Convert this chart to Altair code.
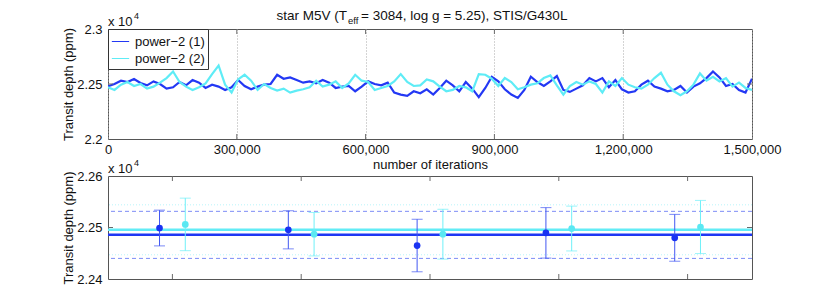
import altair as alt
import numpy as np
import pandas as pd

FONT = "Liberation Sans"
names = ["power\u22122 (1)", "power\u22122 (2)"]
dark = "#2338f4"
cyan = "#5eecf6"

# ---- top panel: MCMC traces (transit depth in ppm) ----
chain1 = [
    22479, 22500, 22530, 22518, 22545, 22509, 22488, 22524, 22500, 22458,
    22470, 22518, 22488, 22536, 22512, 22464, 22494, 22476, 22446, 22470,
    22536, 22482, 22452, 22476, 22494,
    22500, 22584, 22548, 22560, 22536, 22512, 22524, 22506, 22536, 22512,
    22464, 22476, 22482, 22434, 22476, 22524, 22500, 22488, 22512, 22422,
    22404, 22392, 22434, 22416, 22452,
    22404, 22464, 22530, 22488, 22434, 22518, 22458, 22380, 22464, 22566,
    22524, 22452, 22404, 22374, 22446, 22566, 22518, 22482, 22524, 22572,
    22446, 22428, 22458, 22488, 22554,
    22524, 22554, 22470, 22536, 22452, 22422, 22434, 22494, 22530, 22476,
    22458, 22434, 22446, 22482, 22422, 22476, 22506, 22554, 22614, 22560,
    22482, 22500, 22446, 22422, 22548,
]
chain2 = [
    22470, 22446, 22494, 22518, 22482, 22500, 22458, 22476, 22512, 22554,
    22614, 22518, 22476, 22446, 22470, 22506, 22590, 22668, 22494, 22422,
    22542, 22584, 22530, 22446, 22500,
    22464, 22440, 22458, 22422, 22440, 22452, 22470, 22530, 22476, 22494,
    22524, 22464, 22506, 22584, 22530, 22518, 22446, 22464, 22482, 22524,
    22590, 22518, 22482, 22488, 22542,
    22524, 22476, 22434, 22446, 22482, 22470, 22434, 22590, 22584, 22548,
    22482, 22554, 22518, 22452, 22470, 22494, 22506, 22554, 22578, 22488,
    22404, 22482, 22518, 22494, 22524,
    22500, 22422, 22524, 22482, 22554, 22494, 22470, 22458, 22494, 22554,
    22602, 22494, 22434, 22398, 22434, 22494, 22596, 22530, 22566, 22524,
    22554, 22476, 22512, 22464, 22446,
]
n_iter = 1500000
x_ticks = [0, 300000, 600000, 900000, 1200000, 1500000]
x_inner = [300000, 600000, 900000, 1200000]
y_top_ticks = [22000, 22500, 23000]

# ---- bottom panel: means and errors of 5 segments ----
segments = [1, 2, 3, 4, 5]
seg_mean1 = [22499, 22495.5, 22465, 22489.6, 22480]
seg_err1 = [34.7, 37.0, 51.0, 49.0, 45.5]
seg_mean2 = [22506, 22487, 22487, 22498, 22501]
seg_err2 = [51.0, 42.2, 48.4, 43.5, 51.6]
total_mean = [22485.7, 22495.5]
total_std = [45.7, 48.5]
y_bot_ticks = [22400, 22500, 22600]

title_parts = ["star M5V (T", "eff", " = 3084, log g = 5.25), STIS/G430L"]

W = 644
H1 = 110
H2 = 103
tick_col = "#6a6a6a"

m = len(chain1)
iters = np.linspace(0, n_iter, m)
trace = pd.DataFrame({
    "iteration": np.concatenate([iters, iters]),
    "depth": chain1 + chain2,
    "chain": [names[0]] * m + [names[1]] * m,
})

xs_top = alt.Scale(domain=[0, n_iter], nice=False, zero=False)
ys_top = alt.Scale(domain=[22000, 23000], nice=False, zero=False)

lines = alt.Chart(trace).mark_line(strokeWidth=2.2, clip=True).encode(
    x=alt.X("iteration:Q", scale=xs_top,
            axis=alt.Axis(values=x_ticks, format=",d", grid=True, gridDash=[1, 2],
                          gridColor="#a8a8a8", gridWidth=1, ticks=False, domain=False,
                          labelFontSize=13, labelPadding=4, labelFlush=False,
                          labelOverlap=False, title="number of iterations",
                          titleFontSize=13, titleFontWeight="normal", titleY=29,
                          titleBaseline="alphabetic")),
    y=alt.Y("depth:Q", scale=ys_top,
            axis=alt.Axis(values=y_top_ticks, labelExpr="datum.value / 10000 + ''",
                          grid=False, ticks=False, domain=False, labelFontSize=13,
                          labelPadding=6, labelFlush=False, title="Transit depth (ppm)",
                          titleFontSize=13, titleFontWeight="normal", titleX=-36,
                          titleY=H1 / 2, titleAngle=270, titleAlign="center",
                          titleBaseline="alphabetic")),
    color=alt.Color("chain:N", scale=alt.Scale(domain=names, range=[dark, cyan]),
                    legend=alt.Legend(orient="none", legendX=0, legendY=0, title=None,
                                      symbolType="stroke", symbolSize=300,
                                      symbolStrokeWidth=1, labelFontSize=13,
                                      labelFont=FONT, padding=3, strokeColor="#333",
                                      fillColor="white", rowPadding=0, labelOffset=5,
                                      cornerRadius=0, labelColor="#111")),
)

tick_x_df = pd.DataFrame({"v": x_inner})
tick_top_a = alt.Chart(tick_x_df).mark_rule(color=tick_col).encode(
    x=alt.X("v:Q", scale=xs_top), y=alt.value(0), y2=alt.value(5))
tick_top_b = alt.Chart(tick_x_df).mark_rule(color=tick_col).encode(
    x=alt.X("v:Q", scale=xs_top), y=alt.value(H1 - 5), y2=alt.value(H1))
tick_y1_df = pd.DataFrame({"v": [22500]})
tick_top_c = alt.Chart(tick_y1_df).mark_rule(color=tick_col).encode(
    y=alt.Y("v:Q", scale=ys_top), x=alt.value(0), x2=alt.value(5))
tick_top_d = alt.Chart(tick_y1_df).mark_rule(color=tick_col).encode(
    y=alt.Y("v:Q", scale=ys_top), x=alt.value(W - 5), x2=alt.value(W))


def exp_label():
    a = alt.Chart(pd.DataFrame({"t": ["x 10"]})).mark_text(
        align="left", baseline="alphabetic", fontSize=13, font=FONT, color="#111"
    ).encode(x=alt.value(0), y=alt.value(-3), text="t:N")
    b = alt.Chart(pd.DataFrame({"t": ["4"]})).mark_text(
        align="left", baseline="alphabetic", fontSize=9, font=FONT, color="#111"
    ).encode(x=alt.value(26), y=alt.value(-10), text="t:N")
    return [a, b]


TFS = 13.5
t1 = alt.Chart(pd.DataFrame({"t": [title_parts[0]]})).mark_text(
    align="right", baseline="alphabetic", fontSize=TFS, font=FONT, color="#111"
).encode(x=alt.value(239), y=alt.value(-9), text="t:N")
t2 = alt.Chart(pd.DataFrame({"t": [title_parts[1]]})).mark_text(
    align="left", baseline="alphabetic", fontSize=9.5, font=FONT, color="#111"
).encode(x=alt.value(240), y=alt.value(-5), text="t:N")
t3 = alt.Chart(pd.DataFrame({"t": [title_parts[2]]})).mark_text(
    align="left", baseline="alphabetic", fontSize=TFS, font=FONT, color="#111"
).encode(x=alt.value(253), y=alt.value(-9), text="t:N")

top = alt.layer(lines, tick_top_a, tick_top_b, tick_top_c, tick_top_d,
                *exp_label(), t1, t2, t3).properties(width=W, height=H1)

# ---- bottom panel ----
xs_bot = alt.Scale(domain=[0.5, 5.5], nice=False, zero=False)
ys_bot = alt.Scale(domain=[22400, 22600], nice=False, zero=False)

seg_df = pd.DataFrame({
    "pos": [s - 0.1 for s in segments] + [s + 0.1 for s in segments],
    "mean": seg_mean1 + seg_mean2,
    "lo": [a - b for a, b in zip(seg_mean1, seg_err1)] + [a - b for a, b in zip(seg_mean2, seg_err2)],
    "hi": [a + b for a, b in zip(seg_mean1, seg_err1)] + [a + b for a, b in zip(seg_mean2, seg_err2)],
    "chain": [names[0]] * 5 + [names[1]] * 5,
})
tot_df = pd.DataFrame({
    "chain": names,
    "mean": total_mean,
    "lo": [a - b for a, b in zip(total_mean, total_std)],
    "hi": [a + b for a, b in zip(total_mean, total_std)],
})

y_axis_bot = alt.Axis(values=y_bot_ticks, labelExpr="datum.value / 10000 + ''",
                      grid=False, ticks=False, domain=False, labelFontSize=13,
                      labelPadding=6, labelFlush=False, title="Transit depth (ppm)",
                      titleFontSize=13, titleFontWeight="normal", titleX=-36,
                      titleY=H2 / 2, titleAngle=270, titleAlign="center",
                      titleBaseline="alphabetic")

base_tot = alt.Chart(tot_df)
dashed = base_tot.transform_filter(alt.datum.chain == names[0])
dotted = base_tot.transform_filter(alt.datum.chain == names[1])
layers = []
layers.append(dotted.mark_rule(color="#b8f4fa", strokeDash=[1, 2], strokeWidth=1).encode(
    y=alt.Y("lo:Q", scale=ys_bot, axis=y_axis_bot)))
layers.append(dotted.mark_rule(color="#b8f4fa", strokeDash=[1, 2], strokeWidth=1).encode(
    y=alt.Y("hi:Q", scale=ys_bot)))
layers.append(dashed.mark_rule(color="#7d8cf6", strokeDash=[4, 3], strokeWidth=1).encode(
    y=alt.Y("lo:Q", scale=ys_bot)))
layers.append(dashed.mark_rule(color="#7d8cf6", strokeDash=[4, 3], strokeWidth=1).encode(
    y=alt.Y("hi:Q", scale=ys_bot)))
layers.append(dotted.mark_rule(color="#62ecf6", strokeWidth=2.5).encode(
    y=alt.Y("mean:Q", scale=ys_bot)))
layers.append(dashed.mark_rule(color="#1f37f4", strokeWidth=2.5).encode(
    y=alt.Y("mean:Q", scale=ys_bot)))

bar_cols = {names[0]: "#4257f2", names[1]: "#6ff0f8"}
pt_cols = {names[0]: "#1a33f2", names[1]: "#5ae8f2"}
for nm in names:
    sub = alt.Chart(seg_df).transform_filter(alt.datum.chain == nm)
    layers.append(sub.mark_rule(color=bar_cols[nm], strokeWidth=1).encode(
        x=alt.X("pos:Q", scale=xs_bot, axis=None),
        y=alt.Y("lo:Q", scale=ys_bot), y2="hi:Q"))
    layers.append(sub.mark_tick(color=bar_cols[nm], orient="horizontal", size=11,
                                thickness=1).encode(
        x=alt.X("pos:Q", scale=xs_bot, axis=None), y=alt.Y("lo:Q", scale=ys_bot)))
    layers.append(sub.mark_tick(color=bar_cols[nm], orient="horizontal", size=11,
                                thickness=1).encode(
        x=alt.X("pos:Q", scale=xs_bot, axis=None), y=alt.Y("hi:Q", scale=ys_bot)))
    layers.append(sub.mark_circle(color=pt_cols[nm], size=45, opacity=1).encode(
        x=alt.X("pos:Q", scale=xs_bot, axis=None), y=alt.Y("mean:Q", scale=ys_bot)))

tick_seg_df = pd.DataFrame({"v": segments})
layers.append(alt.Chart(tick_seg_df).mark_rule(color=tick_col).encode(
    x=alt.X("v:Q", scale=xs_bot, axis=None), y=alt.value(0), y2=alt.value(5)))
layers.append(alt.Chart(tick_seg_df).mark_rule(color=tick_col).encode(
    x=alt.X("v:Q", scale=xs_bot, axis=None), y=alt.value(H2 - 5), y2=alt.value(H2)))
tick_y2_df = pd.DataFrame({"v": [22500]})
layers.append(alt.Chart(tick_y2_df).mark_rule(color=tick_col).encode(
    y=alt.Y("v:Q", scale=ys_bot), x=alt.value(0), x2=alt.value(5)))
layers.append(alt.Chart(tick_y2_df).mark_rule(color=tick_col).encode(
    y=alt.Y("v:Q", scale=ys_bot), x=alt.value(W - 5), x2=alt.value(W)))
layers.extend(exp_label())

bottom = alt.layer(*layers).properties(width=W, height=H2)

chart = alt.vconcat(top, bottom, spacing=37, bounds="flush").resolve_scale(
    x="independent", y="independent"
).properties(
    padding={"left": 53, "top": 0, "right": 5, "bottom": 5}
).configure_view(
    stroke="#555555", strokeWidth=1
).configure_axis(
    labelFont=FONT, titleFont=FONT, labelColor="#111", titleColor="#111"
).configure_text(font=FONT)

chart.save("out.html", embed_options={"renderer": "svg", "actions": False})
